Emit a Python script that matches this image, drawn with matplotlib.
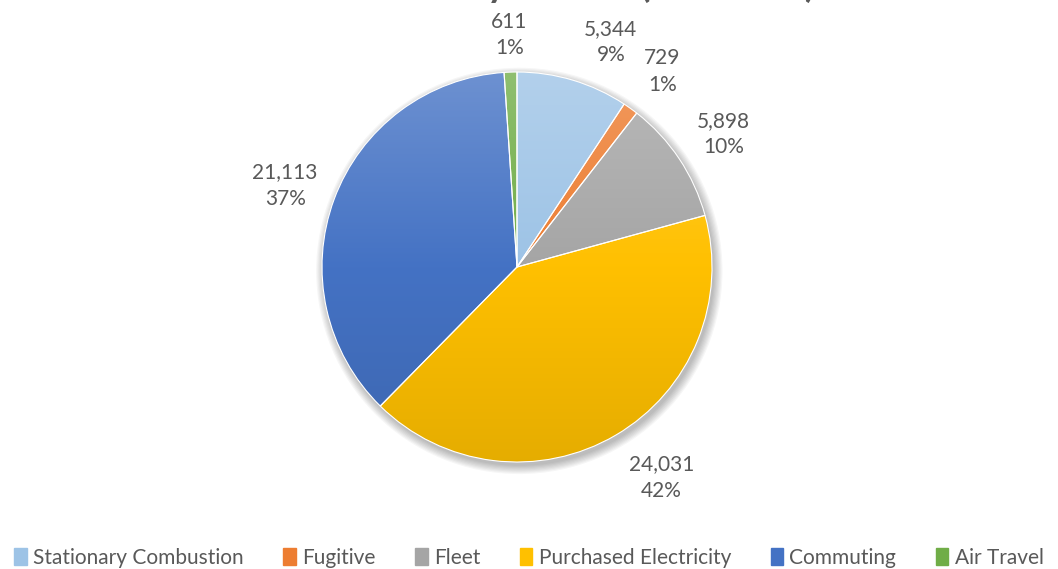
import numpy as np
import matplotlib.pyplot as plt
from matplotlib.colors import to_rgb
from matplotlib.patches import Circle

# data
categories = ['Stationary Combustion', 'Fugitive', 'Fleet', 'Purchased Electricity', 'Commuting', 'Air Travel']
values = [5344, 729, 5898, 24031, 21113, 611]
colors = ['#9DC3E6', '#ED7D31', '#A5A5A5', '#FFC000', '#4472C4', '#70AD47']
title = 'GHG Emissions by Source (MTCO2e)'

# best-fit label placement (angle nudge in degrees, distance in radii)
label_nudge = [6, 1, 1, -4, -1, 0]
label_dist = [1.25, 1.25, 1.26, 1.31, 1.26, 1.19]

plt.rcParams['font.family'] = ['Lato', 'DejaVu Sans']
grey = '#595959'

fig = plt.figure(figsize=(10.58, 5.69), dpi=100)
ax = fig.add_axes([244 / 1058, 29 / 569, 546 / 1058, 546 / 569])

total = sum(values)
wedges, _ = ax.pie(values, colors=colors, startangle=90, counterclock=False,
                   wedgeprops=dict(edgecolor='white', linewidth=0.8))

# soft shadow under the pie
for k in range(8):
    ax.add_patch(Circle((0.012, -0.02), 1.0 + 0.006 * k, color='black',
                        alpha=0.035, zorder=0, lw=0))

# vertical gradient shading on each slice: light top, base middle, darker bottom
t = np.linspace(0, 1, 256)[:, None]
for w, c in zip(wedges, colors):
    base = np.array(to_rgb(c))
    top = base + (1 - base) * 0.22
    bot = base * 0.9
    up = np.clip(1 - 2 * t, 0, 1)
    dn = np.clip(2 * t - 1, 0, 1)
    mid = 1 - up - dn
    grad = up[..., None] * top + mid[..., None] * base + dn[..., None] * bot
    grad = np.repeat(grad, 2, axis=1)
    im = ax.imshow(grad, extent=[-1, 1, -1, 1], origin='upper', zorder=2,
                   interpolation='bilinear')
    im.set_clip_path(w)
for w in wedges:
    w.set_facecolor('none')
    w.set_zorder(3)

# data labels
for w, v, dn, dist in zip(wedges, values, label_nudge, label_dist):
    ang = np.deg2rad((w.theta1 + w.theta2) / 2 - dn)
    ax.text(dist * np.cos(ang), dist * np.sin(ang),
            '{:,}\n{:.0f}%'.format(v, 100 * v / total),
            ha='center', va='center', fontsize=15, color=grey, linespacing=1.4)

ax.set_xlim(-1.4, 1.4)
ax.set_ylim(-1.4, 1.4)
ax.set_aspect('equal')
ax.axis('off')

fig.text(815 / 1058, 1 + 3 / 569, title, ha='right', va='baseline',
         fontsize=27, fontweight='bold', color=grey)

handles = [plt.Rectangle((0, 0), 1, 1, color=c) for c in colors]
fig.legend(handles, categories, loc='center', bbox_to_anchor=(0.5, 11 / 569), ncol=6,
           frameon=False, fontsize=15, labelcolor=grey, handlelength=0.6,
           handleheight=0.85, handletextpad=0.3, columnspacing=1.9)

fig.savefig('out.png', dpi=100)
